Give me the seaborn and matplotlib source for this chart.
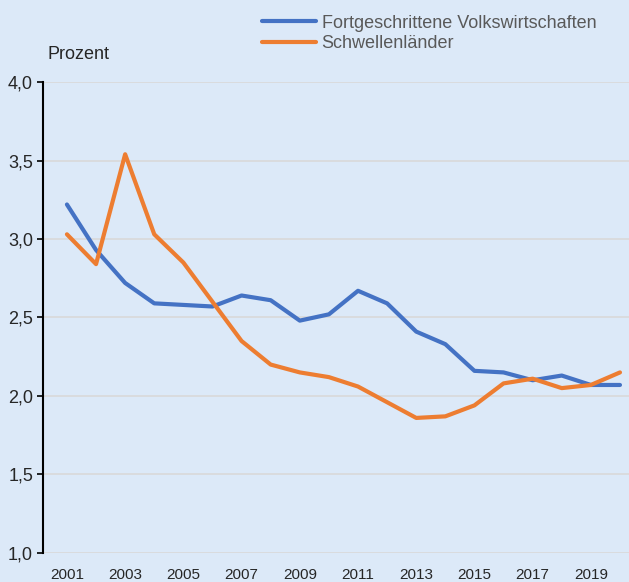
import matplotlib
matplotlib.use("Agg")
import matplotlib.pyplot as plt
import seaborn as sns
import pandas as pd

# Data
years = list(range(2001, 2021))
fortgeschrittene = [3.22, 2.93, 2.72, 2.59, 2.58, 2.57, 2.64, 2.61, 2.48, 2.52,
                    2.67, 2.59, 2.41, 2.33, 2.16, 2.15, 2.10, 2.13, 2.07, 2.07]
schwellen = [3.03, 2.84, 3.54, 3.03, 2.85, 2.60, 2.35, 2.20, 2.15, 2.12,
             2.06, 1.96, 1.86, 1.87, 1.94, 2.08, 2.11, 2.05, 2.07, 2.15]
series_names = ["Fortgeschrittene Volkswirtschaften", "Schwellenländer"]
colors = ["#4472c4", "#ed7d31"]
y_ticks = [1.0, 1.5, 2.0, 2.5, 3.0, 3.5, 4.0]
x_ticks = list(range(2001, 2021, 2))

df = pd.DataFrame({
    "Jahr": years * 2,
    "Wert": fortgeschrittene + schwellen,
    "Serie": [series_names[0]] * len(years) + [series_names[1]] * len(years),
})

bg = "#dce9f8"
sns.set_style("white")
plt.rcParams["font.family"] = ["Liberation Sans", "DejaVu Sans"]

fig = plt.figure(figsize=(6.29, 5.82), dpi=100, facecolor=bg)
ax = fig.add_axes([0.068, 0.05, 0.932, 0.809])
ax.set_facecolor(bg)

sns.lineplot(data=df, x="Jahr", y="Wert", hue="Serie", palette=colors,
             linewidth=3, ax=ax, legend=False)

ax.set_xlim(2000.17, 2020.31)
ax.set_ylim(1.0, 4.0)
ax.set_yticks(y_ticks)
ax.set_yticklabels([f"{v:.1f}".replace(".", ",") for v in y_ticks], fontsize=13)
ax.set_xticks(x_ticks)
ax.set_xticklabels([str(x) for x in x_ticks], fontsize=11)
ax.set_xlabel("")
ax.set_ylabel("")

ax.grid(axis="y", color="#d9d9d9", linewidth=1.2)
ax.set_axisbelow(True)
for side in ["top", "right", "bottom"]:
    ax.spines[side].set_visible(False)
ax.spines["left"].set_color("black")
ax.spines["left"].set_linewidth(1.5)
ax.tick_params(axis="y", length=4, width=1.2, color="black", pad=3, left=True)
ax.tick_params(axis="x", length=0, pad=11)

fig.text(0.076, 0.907, "Prozent", fontsize=13, va="center", ha="left")

handles = [plt.Line2D([], [], color=c, linewidth=3) for c in colors]
fig.legend(handles, series_names, loc="upper left", bbox_to_anchor=(0.4165, 0.975),
           frameon=False, fontsize=13, handlelength=3.0, handletextpad=0.3,
           labelspacing=0.2, borderpad=0, borderaxespad=0, labelcolor="#595959")

fig.savefig("out.png", dpi=100, facecolor=bg)
